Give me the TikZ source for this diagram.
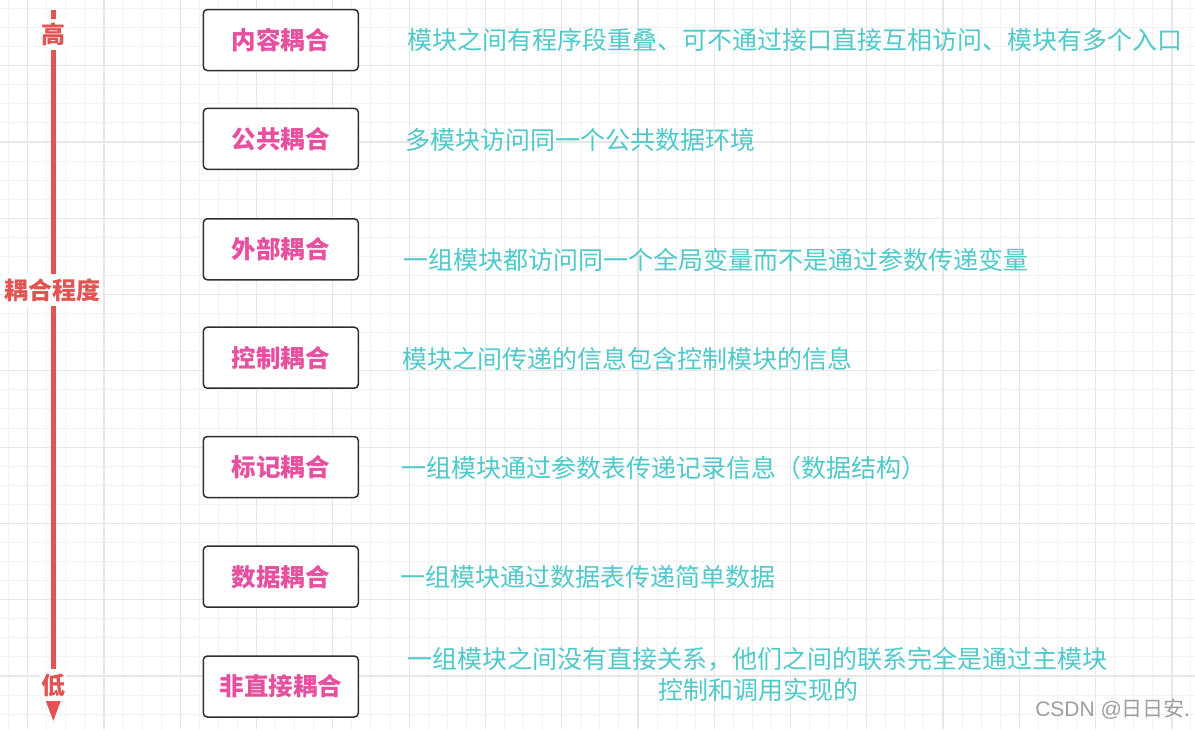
\documentclass[tikz,border=0pt]{standalone}
\usepackage{fontspec}
\setmainfont{Noto Sans CJK SC}
\newfontfamily\wmlatin{Liberation Sans}
\usetikzlibrary{arrows.meta}
\definecolor{gridminor}{HTML}{F2F2F2}
\definecolor{gridmajor}{HTML}{E7E7E7}
\definecolor{arrowred}{HTML}{E55252}
\definecolor{boxpink}{HTML}{E6509F}
\definecolor{descteal}{HTML}{4FC9C9}
\definecolor{boxline}{HTML}{2B2F33}
\tikzset{
  levelbox/.style={draw=boxline, line width=1.5pt, rounded corners=4pt, fill=white,
    minimum width=155pt, minimum height=61pt, inner sep=0pt,
    font=\fontsize{24.5}{28}\selectfont\bfseries, text=boxpink},
  desc/.style={anchor=west, inner sep=0pt, font=\fontsize{25}{32}\selectfont, text=descteal},
  axislabel/.style={fill=white, text=arrowred, inner xsep=1pt, inner ysep=4pt,
    font=\fontsize{24}{28}\selectfont\bfseries},
}
\begin{document}
\begin{tikzpicture}[x=1pt,y=-1pt]
\useasboundingbox (0,0) rectangle (1195,729);
\fill[white] (0,0) rectangle (1195,729);
% grid
\foreach \i in {0,...,62} {
  \draw[gridminor, line width=1pt] (8.63+\i*19.07,0) -- (8.63+\i*19.07,729);
}
\foreach \j in {0,...,38} {
  \draw[gridminor, line width=1pt] (0,8.5+\j*19.07) -- (1195,8.5+\j*19.07);
}
\foreach \i in {0,...,15} {
  \draw[gridmajor, line width=1.2pt] (27.7+\i*76.28,0) -- (27.7+\i*76.28,729);
}
\foreach \j in {0,...,8} {
  \draw[gridmajor, line width=1.2pt] (0,65.7+\j*76.28) -- (1195,65.7+\j*76.28);
}
% axis
\coordinate (top) at (53.3,10);
\coordinate (bottom) at (53.3,722);
\draw[arrowred, line width=5pt, -{Triangle[length=22pt 0 0, width=14pt 0 0]}] (top) -- (bottom);
\node[axislabel] (high) at (53.3,34.5) {高};
\node[axislabel] (degree) at (53,290) {耦合程度};
\node[axislabel] (low) at (53.3,685) {低};
% boxes
\node[levelbox] (b1) at (280.8,40) {内容耦合};
\node[levelbox] (b2) at (280.8,138.8) {公共耦合};
\node[levelbox] (b3) at (280.8,249.3) {外部耦合};
\node[levelbox] (b4) at (280.8,357.7) {控制耦合};
\node[levelbox] (b5) at (280.8,467) {标记耦合};
\node[levelbox] (b6) at (280.8,576.7) {数据耦合};
\node[levelbox] (b7) at (280.8,686.5) {非直接耦合};
% descriptions
\node[desc] (d1) at (407,40) {模块之间有程序段重叠、可不通过接口直接互相访问、模块有多个入口};
\node[desc] (d2) at (405,140) {多模块访问同一个公共数据环境};
\node[desc] (d3) at (403,260) {一组模块都访问同一个全局变量而不是通过参数传递变量};
\node[desc] (d4) at (402,359) {模块之间传递的信息包含控制模块的信息};
\node[desc] (d5) at (401,468) {一组模块通过参数表传递记录信息（数据结构）};
\node[desc] (d6) at (400,577) {一组模块通过数据表传递简单数据};
\node[desc] (d7a) at (407,659) {一组模块之间没有直接关系，他们之间的联系完全是通过主模块};
\node[desc, anchor=center] (d7b) at (758,690) {控制和调用实现的};
% watermark
\node[anchor=east, inner sep=0pt, text=black!38, font=\fontsize{21}{24}\selectfont] (wm) at (1191,709) {{\wmlatin CSDN @}日日安.};
\end{tikzpicture}
\end{document}
